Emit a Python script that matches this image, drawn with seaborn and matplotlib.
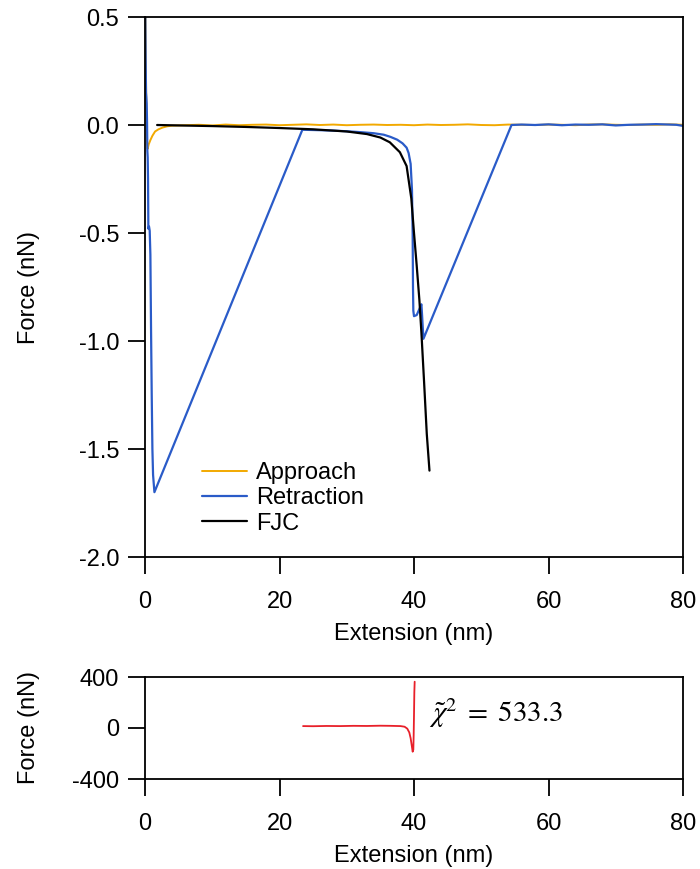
import matplotlib
matplotlib.use("Agg")
import matplotlib.pyplot as plt
import seaborn as sns
import pandas as pd

# ---------------- data ----------------
approach_x = [0.0, 0.03, 0.06, 0.09, 0.12, 0.15, 0.18, 0.21, 0.25, 0.3, 0.4, 0.55, 0.8, 1.1, 1.5,
              2.0, 2.6, 3.3, 4.0, 6, 8, 10, 12, 14, 16, 18, 20, 22, 24, 26, 28, 30, 32, 34, 36,
              38, 40, 42, 44, 46, 48, 50, 52, 54, 56, 58, 60, 62, 64, 66, 68, 70, 72, 74, 76, 78, 80]
approach_f = [0.9, 0.7, 0.55, 0.42, 0.3, 0.22, 0.12, 0.05, -0.02, -0.08, -0.11, -0.09, -0.07, -0.05, -0.03,
              -0.02, -0.012, -0.006, -0.003, -0.001, 0.001, -0.002, 0.002, -0.001, 0.001, 0.002, -0.001,
              0.001, 0.003, 0.000, 0.002, -0.001, 0.001, 0.002, 0.000, 0.001, -0.001, 0.002, 0.000,
              0.001, 0.003, 0.000, -0.001, 0.002, 0.001, 0.000, 0.002, 0.001, -0.001, 0.002, 0.003,
              0.001, 0.000, 0.002, 0.001, 0.003, 0.001]

retract_x = [0.0, 0.05, 0.1, 0.15, 0.2, 0.25, 0.3, 0.35, 0.4, 0.45, 0.5, 0.6, 0.7, 0.8, 0.9,
             1.0, 1.1, 1.2, 1.4, 23.4, 26, 28, 30, 32, 34, 35.5, 36.5, 37.5, 38.3, 38.9, 39.2,
             39.5, 39.7, 39.8, 39.85, 39.9, 40.0, 40.4, 40.9, 41.1, 41.2, 41.4, 54.5, 56, 58,
             60, 62, 64, 66, 68, 70, 72, 74, 76, 78, 79, 80]
retract_f = [0.8, 0.5, 0.3, 0.15, 0.13, 0.1, 0.02, -0.12, -0.15, -0.25, -0.48, -0.47, -0.49, -0.6,
             -0.95, -1.25, -1.5, -1.62, -1.70, -0.022, -0.024, -0.026, -0.029, -0.033, -0.038,
             -0.045, -0.055, -0.068, -0.085, -0.105, -0.13, -0.18, -0.30, -0.5, -0.75, -0.86,
             -0.885, -0.88, -0.845, -0.83, -0.88, -0.99, 0.0, 0.002, 0.000, 0.003, -0.001, 0.002,
             0.001, 0.003, -0.002, 0.001, 0.002, 0.004, 0.002, 0.001, -0.004]

fjc_x = [1.8, 5, 10, 15, 20, 25, 30, 33, 35, 36.4, 37.9, 38.9, 39.6, 40.0, 40.4, 40.8, 41.1,
         41.5, 41.9, 42.3]
fjc_f = [0.0, -0.002, -0.005, -0.009, -0.014, -0.02, -0.03, -0.042, -0.058, -0.08, -0.126,
         -0.19, -0.34, -0.50, -0.65, -0.81, -0.96, -1.19, -1.43, -1.60]

resid_x = [23.5, 25, 27, 29, 31, 33, 35, 36.5, 38.0, 38.6, 39.0, 39.3, 39.5, 39.7, 39.8,
           39.9, 39.95, 40.0, 40.05, 40.1]
resid_f = [15, 14, 16, 15, 17, 16, 18, 17, 15, 10, -5, -35, -80, -150, -186, -170, -60,
           100, 280, 363]

chi_text = r"$\tilde{\chi}^2\;=\;533.3$"

xticks = [0, 20, 40, 60, 80]
yticks_top = [-2.0, -1.5, -1.0, -0.5, 0.0, 0.5]
yticks_bot = [-400, 0, 400]

# ---------------- style ----------------
sns.set_style("ticks")
plt.rcParams["font.family"] = ["Liberation Sans", "DejaVu Sans"]
plt.rcParams["axes.unicode_minus"] = False
plt.rcParams["mathtext.fontset"] = "stix"

c_app = "#F2A900"
c_ret = "#2A5BC8"
c_fjc = "#000000"
c_res = "#E8202A"

fig = plt.figure(figsize=(7.0, 8.69), dpi=100)
ax1 = fig.add_axes([145/700, 1-557/869, 538/700, 540/869])
ax2 = fig.add_axes([145/700, 1-779/869, 538/700, 102/869])

df_app = pd.DataFrame({"x": approach_x, "f": approach_f})
df_ret = pd.DataFrame({"x": retract_x, "f": retract_f})
df_fjc = pd.DataFrame({"x": fjc_x, "f": fjc_f})
df_res = pd.DataFrame({"x": resid_x, "f": resid_f})

sns.lineplot(data=df_app, x="x", y="f", ax=ax1, sort=False, estimator=None, color=c_app,
             lw=1.4, label="Approach")
sns.lineplot(data=df_ret, x="x", y="f", ax=ax1, sort=False, estimator=None, color=c_ret,
             lw=1.6, label="Retraction")
sns.lineplot(data=df_fjc, x="x", y="f", ax=ax1, sort=False, estimator=None, color=c_fjc,
             lw=1.6, label="FJC")
sns.lineplot(data=df_res, x="x", y="f", ax=ax2, sort=False, estimator=None, color=c_res,
             lw=1.3)

for ax in (ax1, ax2):
    ax.set_xlim(0, 80)
    ax.set_xticks(xticks)
    for s in ax.spines.values():
        s.set_linewidth(1.3)
        s.set_color("black")
    ax.tick_params(axis="both", direction="out", length=12.5, width=1.3, labelsize=17,
                   colors="black", labelcolor="black")
    ax.tick_params(axis="x", pad=12)
    ax.tick_params(axis="y", pad=6)
    ax.set_xlabel("Extension (nm)", fontsize=17, labelpad=7.5, color="black")
    ax.set_ylabel("Force (nN)", fontsize=17, color="black")
    ax.yaxis.set_label_coords(-0.195, 0.5)

ax1.set_ylim(-2.0, 0.5)
ax1.set_yticks(yticks_top)
ax1.set_yticklabels([f"{v:.1f}" for v in yticks_top])
ax2.set_ylim(-400, 400)
ax2.set_yticks(yticks_bot)

leg = ax1.legend(loc="upper left", bbox_to_anchor=(0.106, 0.176), frameon=False, fontsize=17,
                 handlelength=1.9, handletextpad=0.38, labelspacing=0.14, borderaxespad=0,
                 borderpad=0)
for t in leg.get_texts():
    t.set_color("black")

ax2.text(42.3, 49, chi_text, fontsize=21, va="baseline", ha="left", color="black")

fig.savefig("out.png", dpi=100)
